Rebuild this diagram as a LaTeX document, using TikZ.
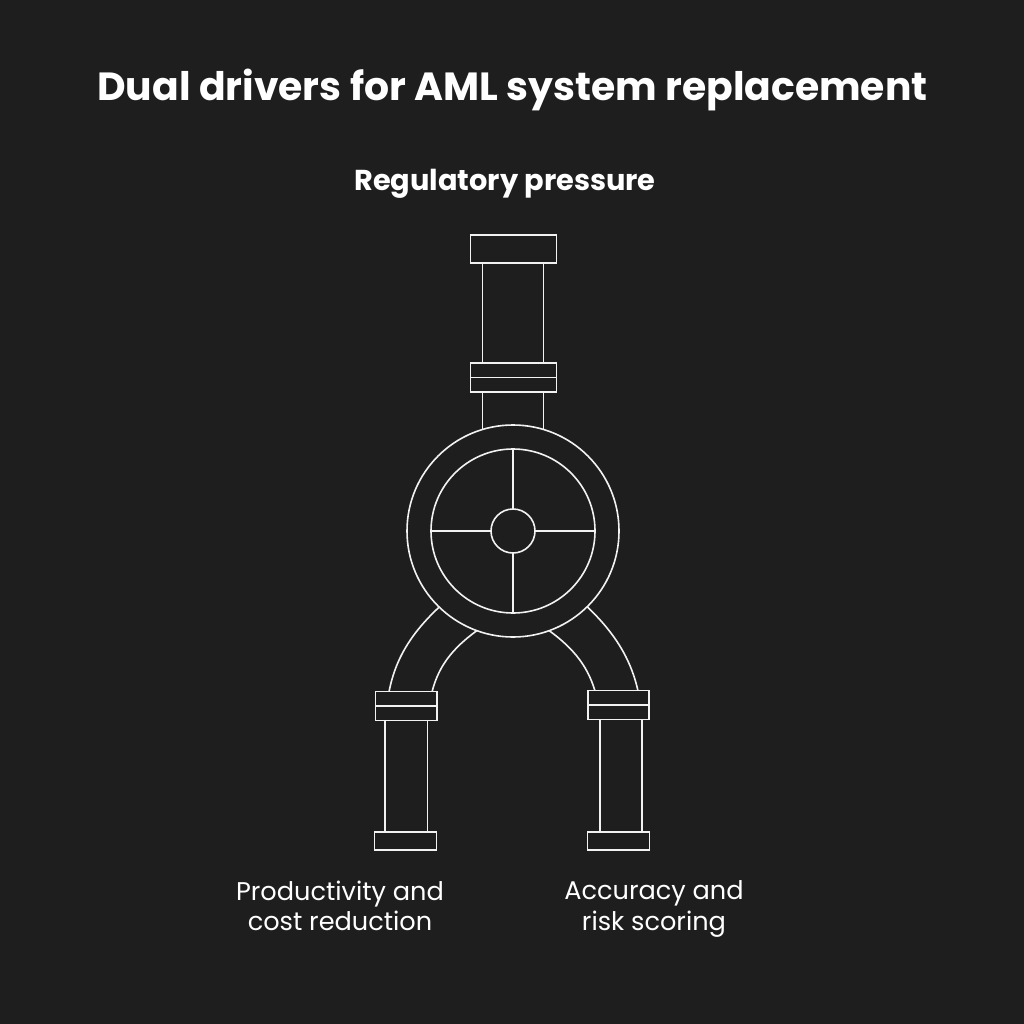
\documentclass[tikz,border=0pt]{standalone}
\usepackage{fontspec}
\setmainfont{Poppins}
\definecolor{bgdark}{HTML}{1E1E1E}
\definecolor{linewhite}{HTML}{F2F2F2}

\begin{document}
\begin{tikzpicture}[x = 1pt, y = -1pt,
	pipe/.style = {draw = linewhite, line width = 1.6pt, fill = bgdark, shape = rectangle, inner sep = 0pt, outer sep = 0pt},
	ring/.style = {draw = linewhite, line width = 1.6pt, fill = bgdark, shape = circle, inner sep = 0pt, outer sep = 0pt},
	elbow/.style = {draw = linewhite, line width = 1.6pt},
	heading/.style = {text = white, font = \bfseries\fontsize{39.3}{44}\selectfont, inner sep = 0pt},
	subheading/.style = {text = white, font = \bfseries\fontsize{28.8}{32}\selectfont, inner sep = 0pt},
	caption/.style = {text = white, font = \fontsize{25.6}{30.5}\selectfont, align = center, inner sep = 0pt}]
	\fill[bgdark] (0,0) rectangle (1024,1024);
	\useasboundingbox (0,0) rectangle (1024,1024);
	% text
	\node[heading] (title) at (512.5,90) {Dual drivers for AML system replacement};
	\node[subheading] (regulatory) at (505,184) {Regulatory pressure};
	\node[caption] (productivity) at (340,906) {Productivity and\\cost reduction};
	\node[caption] (accuracy) at (654,909) {Accuracy and\\risk scoring};
	% elbows, the wheel covers their upper ends
	\coordinate (LO) at (389,692);
	\coordinate (LI) at (432,692);
	\coordinate (RI) at (595,691);
	\coordinate (RO) at (638,691);
	\draw[elbow] (LO) .. controls (396,655) and (415,628) .. (447,600);
	\draw[elbow] (LI) .. controls (439,664) and (455,645) .. (485,625);
	\draw[elbow] (RI) .. controls (587,664) and (571,645) .. (541,625);
	\draw[elbow] (RO) .. controls (630,655) and (611,628) .. (580,600);
	% upper pipe
	\node[pipe, minimum width = 61, minimum height = 110] (uppipe) at (513,313) {};
	\node[pipe, minimum width = 61, minimum height = 60] (neck) at (513,420) {};
	\node[pipe, minimum width = 86, minimum height = 28] (topcap) at (513.5,249) {};
	\node[pipe, minimum width = 86, minimum height = 29] (topflange) at (513.5,377.5) {};
	\draw[elbow] (topflange.west) -- (topflange.east);
	% wheel
	\node[ring, minimum size = 212] (wheel) at (513,531) {};
	\node[ring, minimum size = 164] (rim) at (513,531) {};
	\node[ring, minimum size = 44] (hub) at (513,531) {};
	\draw[elbow] (rim.north) -- (hub.north);
	\draw[elbow] (rim.south) -- (hub.south);
	\draw[elbow] (rim.west) -- (hub.west);
	\draw[elbow] (rim.east) -- (hub.east);
	% left leg
	\node[pipe, minimum width = 42.5, minimum height = 120] (leftpipe) at (406.25,776) {};
	\node[pipe, minimum width = 61.5, minimum height = 29] (leftflange) at (406.25,706) {};
	\draw[elbow] (leftflange.west) -- (leftflange.east);
	\node[pipe, minimum width = 62, minimum height = 18] (leftcap) at (405.5,841) {};
	% right leg
	\node[pipe, minimum width = 42, minimum height = 120] (rightpipe) at (621,776) {};
	\node[pipe, minimum width = 61, minimum height = 29] (rightflange) at (618.5,705) {};
	\draw[elbow] (rightflange.west) -- (rightflange.east);
	\node[pipe, minimum width = 62, minimum height = 18] (rightcap) at (618.5,841) {};
\end{tikzpicture}
\end{document}
